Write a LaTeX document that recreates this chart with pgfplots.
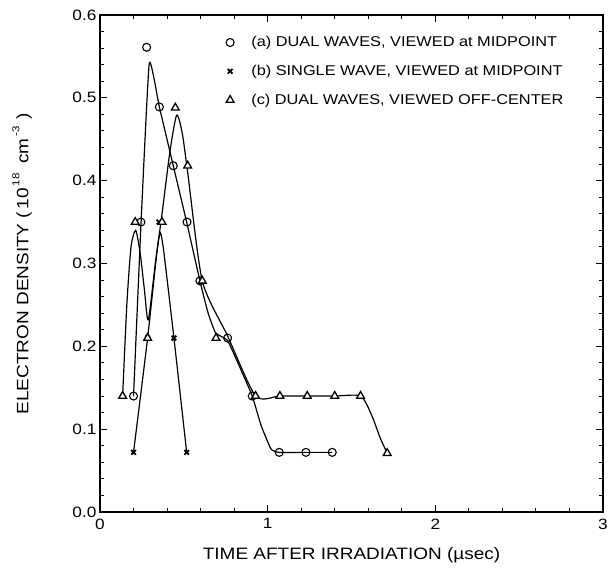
\documentclass[border=0pt]{standalone}
\usepackage{pgfplots}
\pgfplotsset{compat=1.18}
\usepackage{fontspec}
\setmainfont{Liberation Sans}[FakeStretch=1.15]
\begin{document}
\begin{tikzpicture}
\begin{axis}[
  scale only axis,
  width=503pt, height=497pt,
  xmin=0, xmax=3, ymin=0, ymax=0.6,
  xtick={0,1,2,3}, ytick={0,0.1,0.2,0.3,0.4,0.5,0.6},
  minor x tick num=4, minor y tick num=4,
  tick align=inside,
  xtick pos=both, ytick pos=both,
  major tick length=7pt, minor tick length=4pt,
  every tick/.style={black, line width=1pt},
  axis line style={line width=1.3pt},
  /pgf/number format/assume math mode=true,
  tick label style={font=\fontsize{15}{17}\selectfont},
  xticklabel style={yshift=-3pt},
  yticklabel style={/pgf/number format/.cd, fixed, fixed zerofill, precision=1},
  xticklabel style={/pgf/number format/.cd, fixed, precision=0},
  label style={font=\fontsize{16.5}{19}\selectfont},
  xlabel={TIME AFTER IRRADIATION (µsec)},
  ylabel={ELECTRON DENSITY (\,10\raisebox{0.55em}{\fontsize{10}{10}\selectfont\,18}\; cm\raisebox{0.55em}{\fontsize{10}{10}\selectfont\,-3}\;\,)},
  xlabel style={at={(axis description cs:0.5,-0.087)}, anchor=center},
  ylabel style={at={(axis description cs:-0.155,0.5)}, anchor=center},
  legend style={draw=none, fill=none, at={(axis description cs:0.242,0.965)}, anchor=north west,
    font=\fontsize{14.2}{17}\selectfont, row sep=13pt, legend cell align=left},
  legend image code/.code={\draw[#1] plot coordinates {(0pt,0pt)}; \path (-5pt,0pt) (19pt,0pt);},
]
% fitted curves
\addplot[forget plot, black, line width=1.2pt, smooth, tension=0.25] coordinates {
(0.2,0.14) (0.245,0.35) (0.294,0.542) (0.354,0.489) (0.437,0.418) (0.519,0.348) (0.596,0.279)
(0.645,0.24) (0.69,0.216) (0.761,0.207) (0.84,0.172) (0.908,0.14) (0.96,0.105) (1.02,0.076)
(1.069,0.072) (1.228,0.072) (1.385,0.072)};
\addplot[forget plot, black, line width=1.2pt, smooth, tension=0.35] coordinates {
(0.2,0.072) (0.284,0.21) (0.34,0.315) (0.36,0.337) (0.38,0.315) (0.441,0.21) (0.517,0.072)};
\addplot[forget plot, black, line width=1.2pt, smooth, tension=0.4] coordinates {
(0.135,0.14) (0.16,0.25) (0.185,0.32) (0.213,0.34) (0.24,0.312) (0.265,0.268) (0.288,0.232)
(0.33,0.30) (0.37,0.36) (0.417,0.435) (0.457,0.479) (0.49,0.458) (0.523,0.41) (0.61,0.279)
(0.76,0.213) (0.928,0.14) (1.073,0.14) (1.236,0.14) (1.40,0.14) (1.554,0.14) (1.62,0.117)
(1.67,0.09) (1.713,0.071)};
% data points
\addplot[only marks, mark=o, mark size=4pt, mark options={line width=1.1pt, fill=white, draw=black}] coordinates {
(0.2,0.14) (0.244,0.35) (0.278,0.561) (0.354,0.489) (0.437,0.418) (0.519,0.35) (0.596,0.279)
(0.761,0.21) (0.908,0.14) (1.069,0.072) (1.228,0.072) (1.385,0.072)};
\addlegendentry{(a) DUAL WAVES, VIEWED at MIDPOINT}
\addplot[only marks, mark=x, mark size=3.3pt, mark options={line width=1.8pt, draw=black}] coordinates {
(0.2,0.072) (0.284,0.21) (0.352,0.35) (0.441,0.21) (0.517,0.072)};
\addlegendentry{(b) SINGLE WAVE, VIEWED at MIDPOINT}
\addplot[only marks, mark=triangle*, mark size=4.5pt, mark options={line width=1.3pt, fill=white, draw=black}] coordinates {
(0.135,0.14) (0.21,0.35) (0.284,0.21) (0.37,0.35) (0.449,0.488) (0.523,0.418) (0.61,0.279)
(0.692,0.21) (0.928,0.14) (1.073,0.14) (1.236,0.14) (1.40,0.14) (1.554,0.14) (1.713,0.071)};
\addlegendentry{(c) DUAL WAVES, VIEWED OFF-CENTER}
\end{axis}
\pgfresetboundingbox
\path[use as bounding box] ([xshift=-100pt,yshift=-63pt]current axis.south west) rectangle ([xshift=8pt,yshift=15pt]current axis.north east);
\end{tikzpicture}
\end{document}
